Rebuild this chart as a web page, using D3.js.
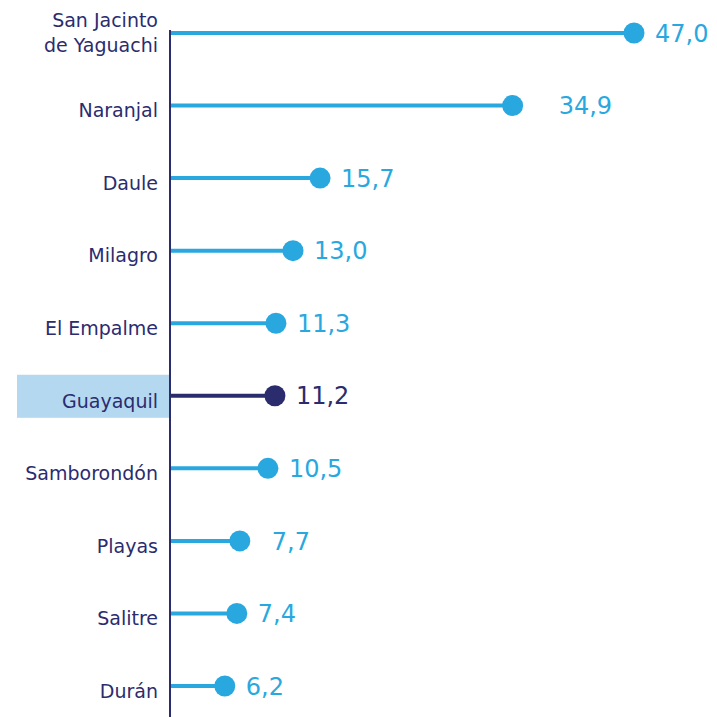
<!DOCTYPE html>
<html>
<head>
<meta charset="utf-8">
<script src="https://cdn.jsdelivr.net/npm/d3@7"></script>
<style>
  body { margin: 0; background: #fff; }
  text { font-family: "DejaVu Sans", sans-serif; }
</style>
</head>
<body>
<div id="chart"></div>
<script>
// Chart data
var cantones = ["San Jacinto de Yaguachi", "Naranjal", "Daule", "Milagro", "El Empalme",
  "Guayaquil", "Samborondón", "Playas", "Salitre", "Durán"];
var valores = [47.0, 34.9, 15.7, 13.0, 11.3, 11.2, 10.5, 7.7, 7.4, 6.2];
var destacado = "Guayaquil";

var svgWidth = 717;
var svgHeight = 717;

var svg = d3.select("#chart")
  .append("svg")
  .attr("width", svgWidth)
  .attr("height", svgHeight);

var axisX = 170;
var light = "#29a8e0";
var dark = "#2b2c6e";

var data = cantones.map(function (c, i) {
  return { canton: c, valor: valores[i] };
});

// Scales
var xScale = d3.scaleLinear()
  .domain([0, 47])
  .range([162.6, 634]);

var yScale = d3.scalePoint()
  .domain(cantones)
  .range([33, 686]);

// Highlight box behind Guayaquil label
svg.append("rect")
  .attr("x", 17)
  .attr("y", yScale(destacado) - 21)
  .attr("width", axisX - 17)
  .attr("height", 43)
  .attr("fill", "#b3d8f0");

// Lollipop stems
svg.selectAll(".stem")
  .data(data)
  .enter()
  .append("line")
  .attr("x1", axisX)
  .attr("x2", d => xScale(d.valor))
  .attr("y1", d => yScale(d.canton))
  .attr("y2", d => yScale(d.canton))
  .attr("stroke", d => d.canton === destacado ? dark : light)
  .attr("stroke-width", 4);

// Vertical axis line
svg.append("line")
  .attr("x1", axisX)
  .attr("x2", axisX)
  .attr("y1", 30)
  .attr("y2", svgHeight)
  .attr("stroke", dark)
  .attr("stroke-width", 2);

// Dots
svg.selectAll(".dot")
  .data(data)
  .enter()
  .append("circle")
  .attr("cx", d => xScale(d.valor))
  .attr("cy", d => yScale(d.canton))
  .attr("r", 10.5)
  .attr("fill", d => d.canton === destacado ? dark : light);

// Value labels (a couple sit further right in the original)
var nudge = { "Naranjal": 25, "Playas": 11 };
svg.selectAll(".val")
  .data(data)
  .enter()
  .append("text")
  .attr("x", d => xScale(d.valor) + 21 + (nudge[d.canton] || 0))
  .attr("y", d => yScale(d.canton))
  .attr("dy", "0.36em")
  .style("font-size", "24px")
  .style("fill", d => d.canton === destacado ? dark : light)
  .text(d => d3.format(".1f")(d.valor).replace(".", ","));

// Category labels
var labels = svg.selectAll(".cat")
  .data(data)
  .enter()
  .append("text")
  .attr("x", 158)
  .attr("y", d => yScale(d.canton))
  .style("font-size", "19px")
  .style("text-anchor", "end")
  .style("fill", dark);

labels.each(function (d) {
  var t = d3.select(this);
  if (d.canton === "San Jacinto de Yaguachi") {
    t.append("tspan").attr("x", 158).attr("dy", "-0.3em").text("San Jacinto");
    t.append("tspan").attr("x", 158).attr("dy", "1.3em").text("de Yaguachi");
  } else {
    t.attr("dy", "0.62em").text(d.canton);
  }
});
</script>
</body>
</html>
